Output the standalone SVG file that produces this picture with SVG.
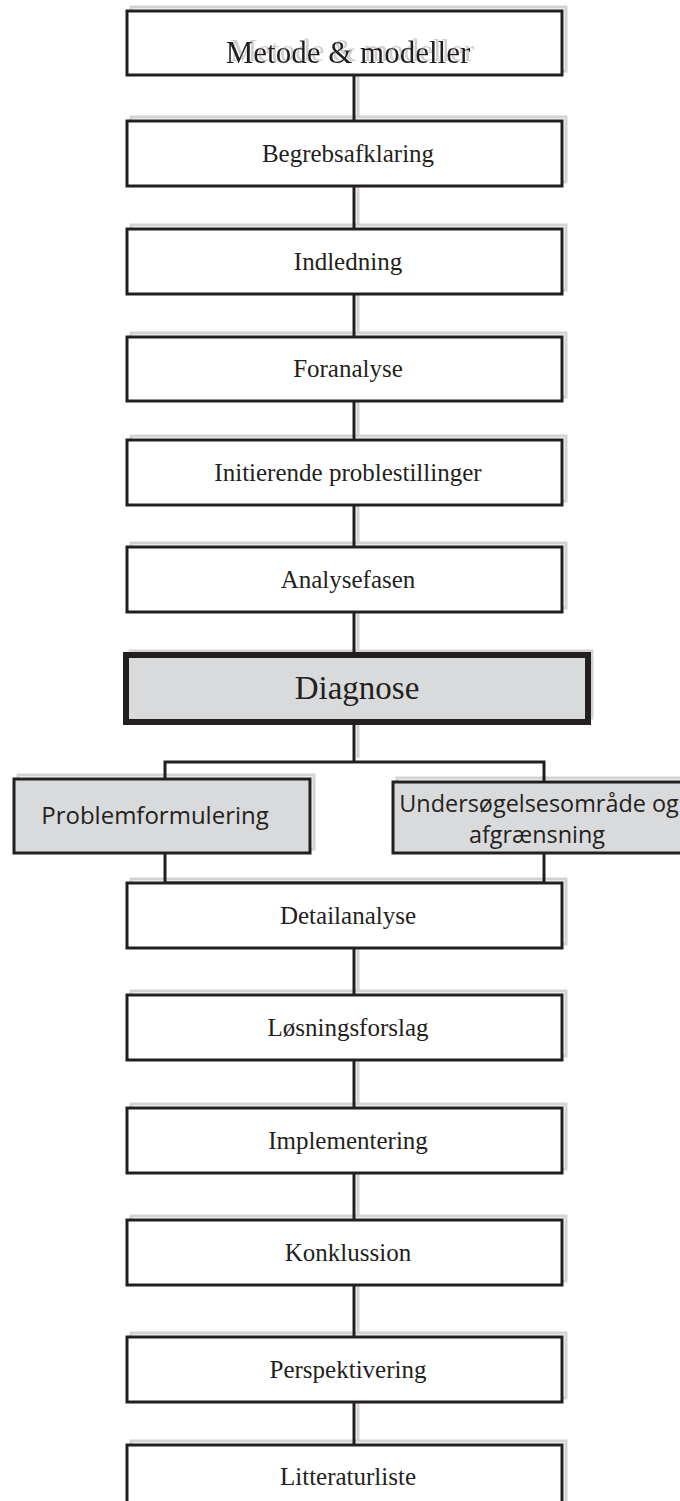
<svg xmlns="http://www.w3.org/2000/svg" width="680" height="1501" viewBox="0 0 680 1501">
  <style>
    .box { fill: #ffffff; stroke: #231f20; stroke-width: 3; }
    .gbox { fill: #d9dadb; stroke: #231f20; stroke-width: 3; }
    .shadow { fill: none; stroke: #d3d3d3; stroke-width: 3; }
    .line { fill: none; stroke: #231f20; stroke-width: 3; }
    .serif { font-family: "Liberation Serif", "Times New Roman", serif; fill: #231f20; text-anchor: middle; }
    .sans { font-family: "Open Sans", "Noto Sans", sans-serif; fill: #231f20; text-anchor: middle; }
  </style>
  <defs>
    <!-- hard grey echo of the title, shifted up and right -->
    <filter id="titleShadow" x="-10%" y="-40%" width="120%" height="180%">
      <feOffset in="SourceAlpha" dx="4" dy="-2" result="off"/>
      <feFlood flood-color="#cfcfcf"/>
      <feComposite in2="off" operator="in" result="grey"/>
      <feMerge>
        <feMergeNode in="grey"/>
        <feMergeNode in="SourceGraphic"/>
      </feMerge>
    </filter>
  </defs>

  <!-- soft grey drop shadows, offset up and to the right -->
  <g id="shadows" class="shadow" transform="translate(4,-4)">
    <rect x="127" y="11" width="435" height="64"/>
    <rect x="127" y="121" width="435" height="65"/>
    <rect x="127" y="229" width="435" height="65"/>
    <rect x="127" y="337" width="435" height="64"/>
    <rect x="127" y="440" width="435" height="65"/>
    <rect x="127" y="547" width="435" height="65"/>
    <rect x="126" y="655" width="462" height="67"/>
    <rect x="14" y="779" width="296" height="74"/>
    <rect x="393" y="782" width="300" height="71"/>
    <rect x="127" y="883" width="435" height="65"/>
    <rect x="127" y="995" width="435" height="65"/>
    <rect x="127" y="1108" width="435" height="65"/>
    <rect x="127" y="1220" width="435" height="65"/>
    <rect x="127" y="1337" width="435" height="65"/>
    <rect x="127" y="1445" width="435" height="65"/>
    <path d="M354 75V121M354 186V229M354 294V337M354 401V440M354 505V547M354 612V655M354 722V762M354 948V995M354 1060V1108M354 1173V1220M354 1285V1337M354 1402V1445"/>
  </g>

  <!-- connectors -->
  <g id="connectors" class="line">
    <path d="M354 75V121"/>
    <path d="M354 186V229"/>
    <path d="M354 294V337"/>
    <path d="M354 401V440"/>
    <path d="M354 505V547"/>
    <path d="M354 612V655"/>
    <path d="M354 722V762"/>
    <path d="M165 779V762H544V782"/>
    <path d="M165 853V883H544V853"/>
    <path d="M354 948V995"/>
    <path d="M354 1060V1108"/>
    <path d="M354 1173V1220"/>
    <path d="M354 1285V1337"/>
    <path d="M354 1402V1445"/>
  </g>

  <g id="metode">
    <rect class="box" x="127" y="11" width="435" height="64"/>
    <text class="serif" x="348" y="63" font-size="31" filter="url(#titleShadow)">Metode &amp; modeller</text>
  </g>
  <g id="begrebsafklaring">
    <rect class="box" x="127" y="121" width="435" height="65"/>
    <text class="serif" x="348" y="162" font-size="25">Begrebsafklaring</text>
  </g>
  <g id="indledning">
    <rect class="box" x="127" y="229" width="435" height="65"/>
    <text class="serif" x="348" y="270" font-size="25">Indledning</text>
  </g>
  <g id="foranalyse">
    <rect class="box" x="127" y="337" width="435" height="64"/>
    <text class="serif" x="348" y="377" font-size="25">Foranalyse</text>
  </g>
  <g id="initierende">
    <rect class="box" x="127" y="440" width="435" height="65"/>
    <text class="serif" x="348" y="481" font-size="25">Initierende problestillinger</text>
  </g>
  <g id="analysefasen">
    <rect class="box" x="127" y="547" width="435" height="65"/>
    <text class="serif" x="348" y="588" font-size="25">Analysefasen</text>
  </g>
  <g id="diagnose">
    <rect class="gbox" x="126" y="655" width="462" height="67" style="stroke-width:6"/>
    <text class="serif" x="357" y="699" font-size="33">Diagnose</text>
  </g>
  <g id="problemformulering">
    <rect class="gbox" x="14" y="779" width="296" height="74"/>
    <text class="sans" x="155" y="824" font-size="24">Problemformulering</text>
  </g>
  <g id="undersoegelsesomraade">
    <rect class="gbox" x="393" y="782" width="300" height="71"/>
    <text class="sans" x="539" y="812" font-size="23.4">Undersøgelsesområde og</text>
    <text class="sans" x="537" y="843" font-size="23.4">afgrænsning</text>
  </g>
  <g id="detailanalyse">
    <rect class="box" x="127" y="883" width="435" height="65"/>
    <text class="serif" x="348" y="924" font-size="25">Detailanalyse</text>
  </g>
  <g id="loesningsforslag">
    <rect class="box" x="127" y="995" width="435" height="65"/>
    <text class="serif" x="348" y="1036" font-size="25">Løsningsforslag</text>
  </g>
  <g id="implementering">
    <rect class="box" x="127" y="1108" width="435" height="65"/>
    <text class="serif" x="348" y="1149" font-size="25">Implementering</text>
  </g>
  <g id="konklussion">
    <rect class="box" x="127" y="1220" width="435" height="65"/>
    <text class="serif" x="348" y="1261" font-size="25">Konklussion</text>
  </g>
  <g id="perspektivering">
    <rect class="box" x="127" y="1337" width="435" height="65"/>
    <text class="serif" x="348" y="1378" font-size="25">Perspektivering</text>
  </g>
  <g id="litteraturliste">
    <rect class="box" x="127" y="1445" width="435" height="65"/>
    <text class="serif" x="348" y="1485" font-size="25">Litteraturliste</text>
  </g>
</svg>
